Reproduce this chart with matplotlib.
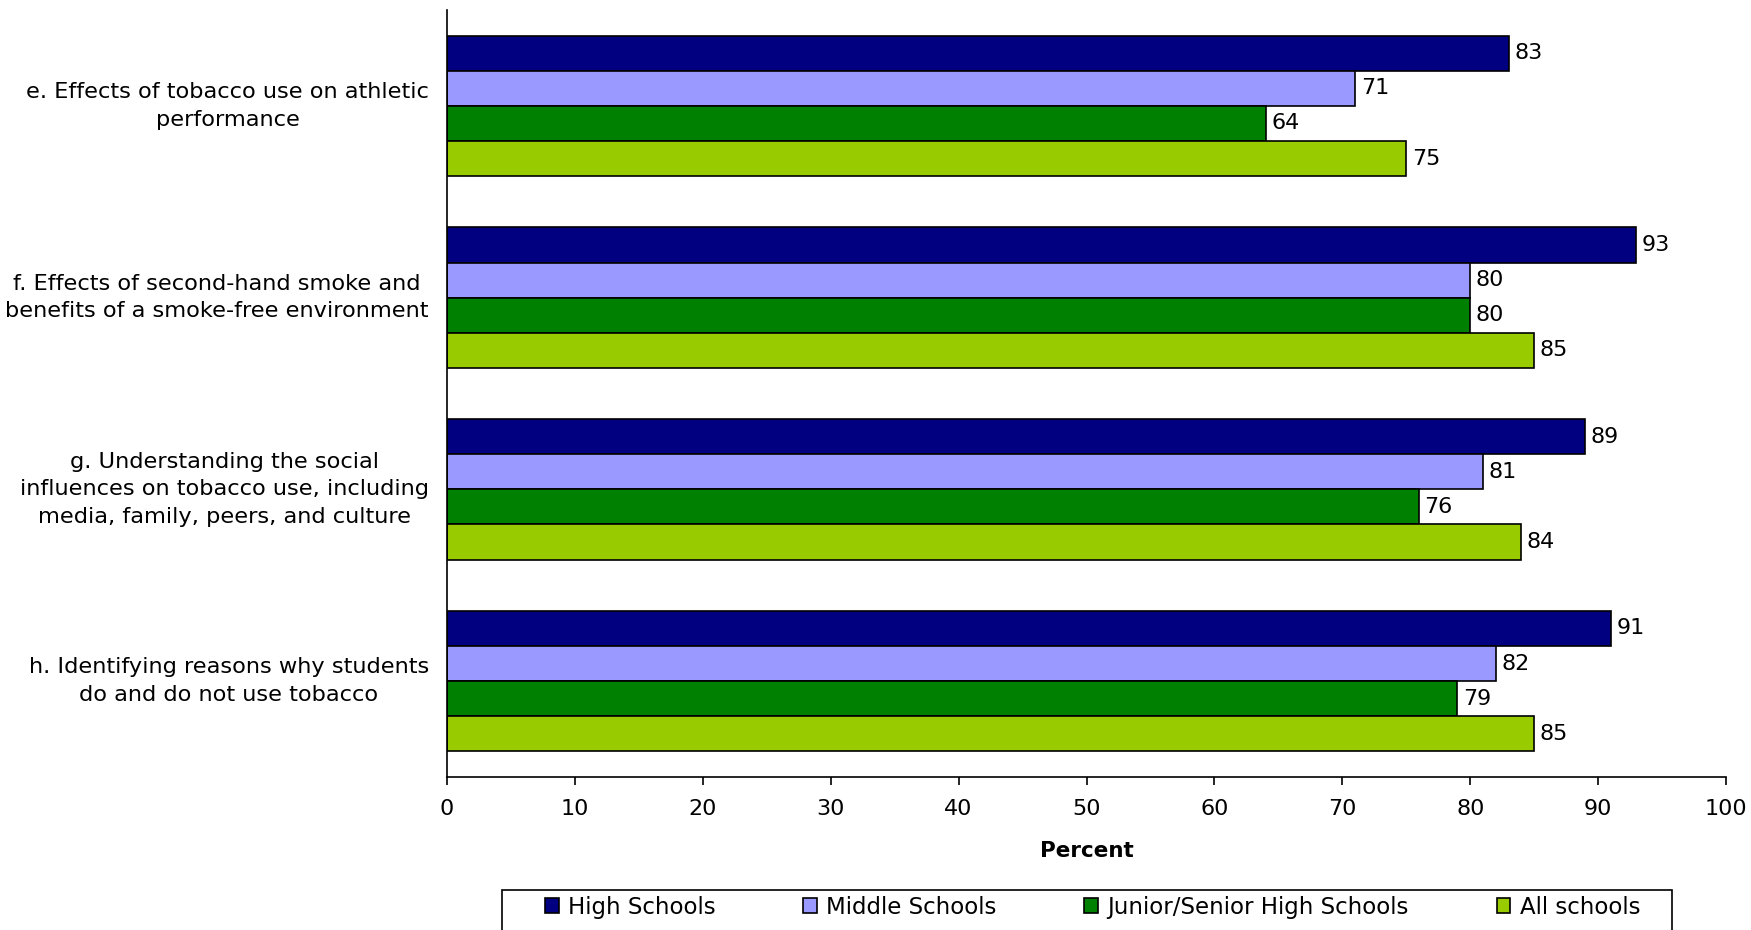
import matplotlib.pyplot as plt
import numpy as np
from matplotlib.patches import Patch, Rectangle

plt.rcParams['font.family'] = ['DejaVu Sans']

# categories, top to bottom
categories = [
    "e. Effects of tobacco use on athletic\nperformance",
    "f. Effects of second-hand smoke and\nbenefits of a smoke-free environment",
    "g. Understanding the social\ninfluences on tobacco use, including\nmedia, family, peers, and culture",
    "h. Identifying reasons why students\ndo and do not use tobacco",
]
series_names = ["High Schools", "Middle Schools", "Junior/Senior High Schools", "All schools"]
high_schools = [83, 93, 89, 91]
middle_schools = [71, 80, 81, 82]
junior_senior = [64, 80, 76, 79]
all_schools = [75, 85, 84, 85]
colors = ["#000080", "#9999FF", "#008000", "#99CC00"]
x_ticks = [0, 10, 20, 30, 40, 50, 60, 70, 80, 90, 100]

fs = 16
W, H = 1751, 930
fig = plt.figure(figsize=(W / 100, H / 100), dpi=100)
ax = fig.add_axes([447 / W, 1 - 777 / H, (1726 - 447) / W, (777 - 10) / H])

series = [high_schools, middle_schools, junior_senior, all_schools]
bar_h = 0.183
centers = np.arange(len(categories)) + 0.5
for k, vals in enumerate(series):
    y = centers + (k - 1.5) * bar_h
    bars = ax.barh(y, vals, height=bar_h, color=colors[k], edgecolor="black", linewidth=1.2)
    ax.bar_label(bars, labels=[str(v) for v in vals], padding=4, fontsize=fs)

ax.set_ylim(len(categories), 0)
ax.set_xlim(0, 100)
ax.set_xticks(x_ticks)
ax.set_yticks(centers)
ax.set_yticklabels(categories, fontsize=16.2, linespacing=1.47, va="center")
for lab in ax.get_yticklabels():
    lab.set_multialignment("center")
ax.tick_params(axis="y", length=0, pad=13)
ax.tick_params(axis="x", direction="out", length=6, width=1.2, labelsize=fs, pad=10)
ax.set_xlabel("Percent", fontsize=15.5, fontweight="bold", labelpad=16)

for s in ["top", "right"]:
    ax.spines[s].set_visible(False)
ax.spines["left"].set_linewidth(1.2)
ax.spines["bottom"].set_linewidth(1.2)

# legend frame (runs off the bottom edge like the original)
fig.patches.append(Rectangle((502 / W, -0.02), (1672 - 502) / W, 1 - 890 / H + 0.02,
                             transform=fig.transFigure, facecolor="none",
                             edgecolor="black", linewidth=1.2))
handles = [Patch(facecolor=c, edgecolor="black", linewidth=1.2) for c in colors]
fig.legend(handles, series_names, loc="center left",
           bbox_to_anchor=(545 / W, 1 - 907 / H, (1640 - 545) / W, 0),
           mode="expand", ncol=4, fontsize=16.5, frameon=False,
           handlelength=0.6, handleheight=0.6, handletextpad=0.4,
           borderpad=0, borderaxespad=0)

fig.savefig("out.png", dpi=100)
